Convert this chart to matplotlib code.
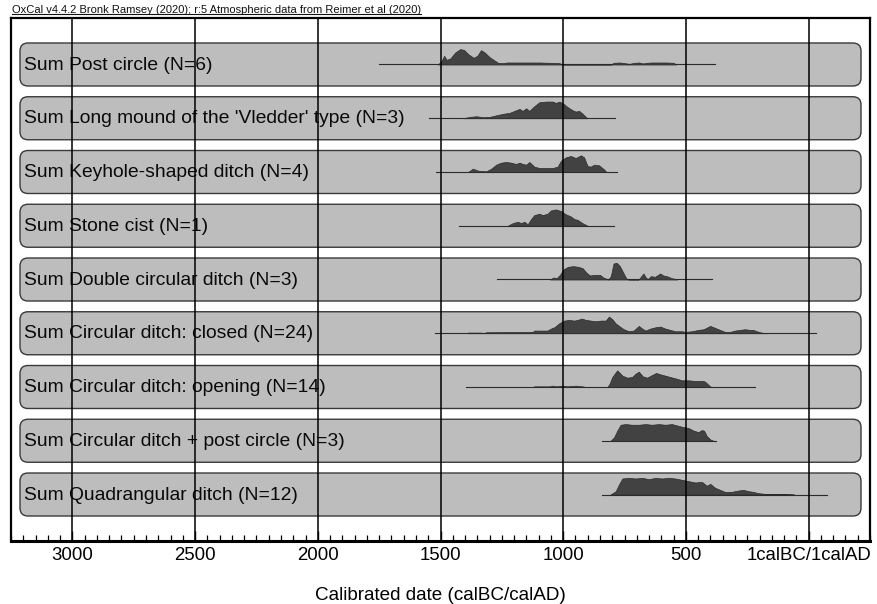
import matplotlib
matplotlib.use("Agg")
import matplotlib.pyplot as plt
from matplotlib.patches import FancyBboxPatch
from matplotlib.lines import Line2D
from matplotlib.ticker import MultipleLocator
import numpy as np

plt.rcParams['font.family'] = ['Liberation Sans', 'DejaVu Sans']

title_text = "OxCal v4.4.2 Bronk Ramsey (2020); r:5 Atmospheric data from Reimer et al (2020)"
x_label = "Calibrated date (calBC/calAD)"
tick_years = [3000, 2500, 2000, 1500, 1000, 500, 0]
tick_labels = ["3000", "2500", "2000", "1500", "1000", "500", "1calBC/1calAD"]

labels = [
    "Sum Post circle (N=6)",
    "Sum Long mound of the 'Vledder' type (N=3)",
    "Sum Keyhole-shaped ditch (N=4)",
    "Sum Stone cist (N=1)",
    "Sum Double circular ditch (N=3)",
    "Sum Circular ditch: closed (N=24)",
    "Sum Circular ditch: opening (N=14)",
    "Sum Circular ditch + post circle (N=3)",
    "Sum Quadrangular ditch (N=12)",
]

# range of each plotted distribution (years BC; negative = AD)
range_start = [1750, 1545, 1517, 1424, 1271, 1523, 1397, 841, 843]
range_end = [381, 790, 782, 795, 394, -30, 219, 377, -75]

# distributions: years BC and relative probability (0-50)
post_circle_bc = [1510, 1495, 1485, 1475, 1460, 1440, 1420, 1405, 1385, 1365, 1350, 1335, 1320, 1300,
                  1280, 1265, 1245, 1230, 1150, 1100, 1050, 1015, 1005, 805, 795, 770, 750, 730, 710,
                  690, 675, 660, 640, 580, 550, 540]
post_circle_p = [0, 12, 26, 14, 18, 36, 46, 44, 30, 20, 26, 43, 36, 22,
                 12, 5, 4, 6, 6, 6, 5, 4, 0, 0, 5, 6, 4, 2, 5,
                 6, 3, 5, 6, 6, 5, 0]

long_mound_bc = [1408, 1381, 1354, 1327, 1300, 1266, 1239, 1219, 1192, 1178, 1165, 1151, 1138, 1118,
                 1097, 1070, 1043, 1030, 1016, 1000, 983, 962, 949, 935, 922, 902]
long_mound_p = [0, 4, 6, 3, 4, 10, 14, 16, 24, 28, 22, 30, 22, 36,
                48, 50, 50, 46, 50, 44, 34, 24, 20, 22, 14, 0]

keyhole_bc = [1388, 1368, 1347, 1314, 1293, 1273, 1253, 1232, 1212, 1192, 1178, 1165, 1151, 1138,
              1118, 1097, 1043, 1023, 1009, 989, 969, 949, 928, 915, 901, 888, 874, 854, 834, 824]
keyhole_p = [0, 10, 4, 2, 10, 22, 28, 30, 28, 24, 28, 24, 22, 30,
             16, 12, 12, 16, 34, 44, 48, 42, 50, 44, 18, 16, 22, 20, 8, 0]

stone_cist_bc = [1226, 1205, 1185, 1172, 1158, 1145, 1131, 1118, 1097, 1084, 1064, 1050, 1030, 1009,
                 989, 969, 955, 942, 922, 901]
stone_cist_p = [0, 8, 12, 8, 12, 4, 20, 32, 36, 32, 36, 46, 49, 44,
                34, 28, 20, 18, 8, 0]

double_circ_bc = [1054, 1040, 1027, 1013, 1000, 980, 959, 939, 921, 905, 891, 871, 850, 837, 816,
                  806, 795, 782, 769, 755, 744, 734, 693, 684, 673, 662, 653, 643, 626, 605, 592,
                  578, 558, 544, 537]
double_circ_p = [0, 6, 4, 14, 30, 38, 40, 38, 34, 20, 12, 14, 14, 6, 0,
                 10, 48, 50, 40, 20, 4, 0, 0, 8, 18, 4, 2, 10, 8, 18, 12,
                 10, 4, 2, 0]

closed_bc = [1388, 1341, 1320, 1314, 1124, 1118, 1064, 1050, 1036, 1016, 996, 976, 955, 942, 924,
             908, 888, 868, 847, 827, 814, 800, 787, 773, 753, 733, 713, 692, 678, 665, 645, 624,
             604, 584, 564, 543, 516, 503, 476, 449, 428, 401, 381, 361, 341, 320, 300, 280, 259,
             239, 226, 212, 192, 172]
closed_p = [2, 2, 1, 3, 4, 8, 8, 14, 18, 30, 38, 40, 38, 40, 44,
            40, 38, 36, 38, 38, 50, 42, 30, 22, 12, 6, 8, 22, 14, 8, 14, 18,
            20, 14, 10, 6, 6, 4, 6, 10, 12, 22, 16, 10, 4, 4, 8, 10, 12,
            10, 10, 6, 2, 0]

opening_bc = [1124, 1118, 1057, 1043, 1030, 1003, 983, 949, 922, 908, 820, 811, 800, 780, 759, 739,
              719, 705, 692, 676, 658, 638, 622, 604, 584, 564, 543, 516, 489, 462, 428, 419, 405,
              397]
opening_p = [0, 2, 2, 4, 2, 4, 2, 4, 2, 0, 0, 10, 30, 50, 34, 28,
             30, 40, 46, 32, 28, 36, 42, 38, 34, 30, 26, 20, 20, 18, 18, 14, 4,
             0]

circ_post_bc = [807, 793, 780, 766, 746, 719, 692, 665, 638, 611, 584, 557, 537, 516, 489, 468, 449,
                435, 426, 415, 401, 388]
circ_post_p = [0, 10, 30, 48, 50, 48, 48, 50, 48, 50, 48, 50, 46, 42, 38, 30, 26,
               32, 30, 14, 4, 0]

quadr_bc = [807, 786, 773, 759, 732, 705, 678, 651, 624, 597, 570, 543, 516, 489, 462, 435, 415,
            401, 381, 361, 341, 314, 286, 266, 246, 226, 205, 178, 151, 100, 60]
quadr_p = [0, 10, 30, 48, 50, 48, 50, 46, 50, 48, 50, 48, 44, 40, 36, 38, 26,
           32, 20, 14, 8, 8, 12, 14, 10, 8, 4, 2, 1, 1, 0]

series_bc = [post_circle_bc, long_mound_bc, keyhole_bc, stone_cist_bc, double_circ_bc,
             closed_bc, opening_bc, circ_post_bc, quadr_bc]
series_p = [post_circle_p, long_mound_p, keyhole_p, stone_cist_p, double_circ_p,
            closed_p, opening_p, circ_post_p, quadr_p]

# ---------------------------------------------------------------
W, H, DPI = 877, 604, 100
fig = plt.figure(figsize=(W / DPI, H / DPI), dpi=DPI)
ax_l, ax_r, ax_t, ax_b = 11, 870, 18, 541
ax = fig.add_axes([ax_l / W, 1 - ax_b / H, (ax_r - ax_l) / W, (ax_b - ax_t) / H])

x_min, x_max = -3250, 250
y_top, y_bot = 0.135, 9.865
ax.set_xlim(x_min, x_max)
ax.set_ylim(y_bot, y_top)

px_per_year = (ax_r - ax_l) / (x_max - x_min)
px_per_unit = (ax_b - ax_t) / (y_bot - y_top)

box_left = x_min + 9 / px_per_year
box_right = x_min + 850 / px_per_year
half_h = 0.40
rad_px = 8
rounding = rad_px / px_per_year
aspect = px_per_year / px_per_unit
peak_scale = 0.31 / 50.0

for i, lab in enumerate(labels):
    yc = i + 1
    box = FancyBboxPatch((box_left, yc - half_h), box_right - box_left, 2 * half_h,
                         boxstyle=f"round,pad=0,rounding_size={rounding}",
                         mutation_aspect=aspect,
                         facecolor="#bdbdbd", edgecolor="#3a3a3a", linewidth=1.0, zorder=1)
    ax.add_patch(box)
    # baseline
    ax.plot([-range_start[i], -range_end[i]], [yc, yc], color="#2b2b2b", lw=0.8, zorder=1.6)
    xs = -np.array(series_bc[i], dtype=float)
    ps = np.array(series_p[i], dtype=float) * peak_scale
    ax.fill_between(xs, yc, yc - ps, facecolor="#424242", edgecolor="#2a2a2a",
                    linewidth=0.5, zorder=1.7)
    ax.text(box_left + 4 / px_per_year, yc + 0.01, lab, fontsize=13.9, ha="left", va="center",
            color="#0a0a0a", zorder=2)

ax.set_xticks([-t for t in tick_years])
ax.set_xticklabels(tick_labels, fontsize=13.4)
ax.xaxis.set_minor_locator(MultipleLocator(50))
ax.tick_params(axis="x", which="major", direction="in", length=7, width=1.0, pad=4, bottom=True, top=False)
ax.tick_params(axis="x", which="minor", direction="in", length=4.5, width=0.9, bottom=True, top=False)
ax.set_yticks([])
ax.set_axisbelow(False)
ax.grid(axis="x", which="major", color="black", linewidth=1.1, zorder=2.5)
for s in ax.spines.values():
    s.set_linewidth(1.6)
    s.set_color("black")
ax.spines["bottom"].set_linewidth(2.2)
ax.set_xlabel(x_label, fontsize=13.6, labelpad=17)

t = fig.text(12 / W, 1 - 10 / H, title_text, fontsize=8.0, ha="left", va="center", color="#111111")
fig.canvas.draw()
bb = t.get_window_extent(renderer=fig.canvas.get_renderer())
uy = bb.y0 + 1.0
fig.add_artist(Line2D([bb.x0 / W, bb.x1 / W], [uy / H, uy / H], color="#111111", lw=0.8,
                      transform=fig.transFigure))

fig.savefig("out.png", dpi=DPI)
